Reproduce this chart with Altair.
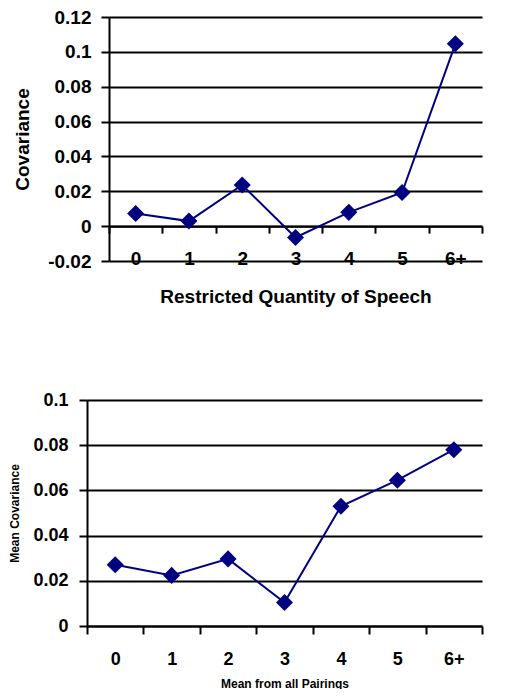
import altair as alt
import pandas as pd

categories = ["0", "1", "2", "3", "4", "5", "6+"]
top_values = [0.0073, 0.0029, 0.0236, -0.0065, 0.0079, 0.0193, 0.1046]
bottom_values = [0.0271, 0.0224, 0.0297, 0.0104, 0.0530, 0.0645, 0.0780]
top_ticks = [-0.02, 0, 0.02, 0.04, 0.06, 0.08, 0.1, 0.12]
bottom_ticks = [0, 0.02, 0.04, 0.06, 0.08, 0.1]

NAVY = "#000080"
FONT = "Liberation Sans"

top_df = pd.DataFrame({"cat": categories, "val": top_values})
bottom_df = pd.DataFrame({"cat": categories, "val": bottom_values})


def axis_style(**kw):
    base = dict(
        domainColor="black", domainWidth=2, tickColor="black", tickWidth=2,
        labelFont=FONT, labelFontWeight="bold", labelColor="black",
        titleFont=FONT, titleFontWeight="bold", titleColor="black",
    )
    base.update(kw)
    return alt.Axis(**base)


TOP_W, TOP_H = 373, 244
top_x = alt.X(
    "cat:N", sort=categories, bandPosition=0.5,
    scale=alt.Scale(type="band", paddingInner=0, paddingOuter=0),
    axis=axis_style(
        title="Restricted Quantity of Speech", labelAngle=0, tickBand="extent",
        offset=-TOP_H * 0.02 / 0.14, tickSize=7, labelPadding=16,
        labelFontSize=19, titleFontSize=19, titlePadding=19, grid=False,
    ),
)
top_y = alt.Y(
    "val:Q",
    scale=alt.Scale(domain=[-0.02, 0.12], nice=False, zero=False),
    axis=axis_style(
        values=top_ticks, labelExpr="datum.value + ''", grid=True,
        gridColor="black", gridWidth=2, gridOpacity=1, tickSize=8,
        labelPadding=10, labelFontSize=19, title="Covariance",
        titleFontSize=19, titlePadding=15,
    ),
)
top_base = alt.Chart(top_df).encode(x=top_x, y=top_y)
top = alt.layer(
    top_base.mark_line(color=NAVY, strokeWidth=2),
    top_base.mark_point(shape="diamond", filled=True, size=290, color=NAVY, opacity=1),
).properties(width=TOP_W, height=TOP_H)

SHIFT = 22
BOT_W, BOT_H = 373, 226
bot_x = alt.X(
    "cat:N", sort=categories, bandPosition=0.5,
    scale=alt.Scale(type="band", paddingInner=0, paddingOuter=0, range=[-SHIFT, BOT_W]),
    axis=axis_style(
        title="Mean from all Pairings", labelAngle=0, tickBand="extent",
        tickSize=8, labelPadding=16, labelFontSize=18, titleFontSize=12,
        titlePadding=10, grid=False,
    ),
)
bot_y = alt.Y(
    "val:Q",
    scale=alt.Scale(domain=[0, 0.1], nice=False, zero=False),
    axis=axis_style(
        values=bottom_ticks, labelExpr="datum.value + ''", grid=True,
        gridColor="black", gridWidth=2, gridOpacity=1, tickSize=8,
        labelPadding=11, labelFontSize=18, title="Mean Covariance",
        titleFontSize=12, titlePadding=11, offset=SHIFT,
    ),
)
bot_base = alt.Chart(bottom_df).encode(x=bot_x, y=bot_y)
bottom = alt.layer(
    bot_base.mark_line(color=NAVY, strokeWidth=2),
    bot_base.mark_point(shape="diamond", filled=True, size=290, color=NAVY, opacity=1),
).properties(width=BOT_W, height=BOT_H)

chart = alt.vconcat(top, bottom, spacing=84).properties(
    padding={"left": 0, "top": 0, "right": 0, "bottom": 0},
    background="white",
).configure_view(strokeWidth=0)

chart.save("out.html", embed_options={"renderer": "svg", "actions": False})
